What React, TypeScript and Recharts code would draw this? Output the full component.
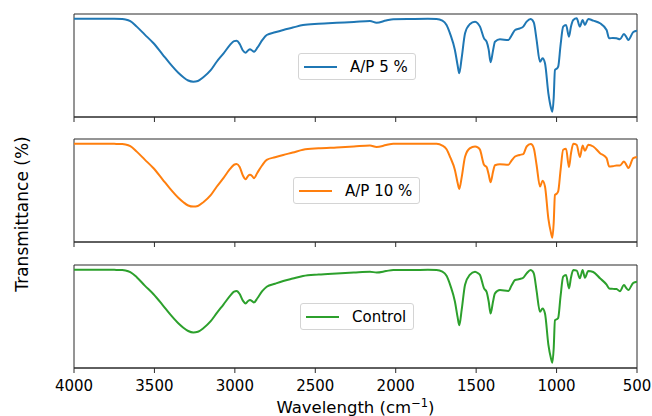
import React from 'react';
import { LineChart, Line, XAxis, YAxis, Legend, ReferenceArea, Label } from 'recharts';

const wavenumbers = [4000, 3850, 3750, 3700, 3680, 3650, 3610, 3560, 3507, 3450, 3403, 3350, 3320, 3290, 3258, 3230, 3196, 3150, 3113, 3070, 3030, 3005, 2989, 2970, 2950, 2933, 2918, 2906, 2893, 2881, 2860, 2830, 2802, 2750, 2699, 2640, 2576, 2480, 2367, 2260, 2160, 2119, 2060, 2015, 1900, 1800, 1746, 1710, 1684, 1660, 1632, 1615, 1605, 1590, 1569, 1540, 1507, 1490, 1476, 1451, 1435, 1422, 1410, 1395, 1383, 1352, 1300, 1280, 1258, 1230, 1207, 1186, 1161, 1150, 1140, 1124, 1103, 1087, 1072, 1051, 1035, 1026, 1018, 1010, 1000, 990, 975, 959, 941, 923, 910, 896, 875, 855, 838, 824, 803, 772, 730, 689, 673, 650, 627, 606, 581, 565, 554, 523, 500];

const ap5 = [100, 100, 99.9, 99.6, 99.2, 97.5, 91.5, 83, 74, 62, 52, 42, 37.5, 34, 32.7, 33.5, 37.5, 45, 54, 63, 72, 76, 76.5, 73, 66, 63.7, 66, 67.3, 66, 64.7, 69, 77, 82.6, 85.5, 88, 90.5, 93.3, 94.7, 95.7, 96.5, 97.5, 95.7, 98, 99.5, 99.7, 99.8, 99.7, 98, 93.3, 83, 66.6, 50, 41.7, 58, 84.4, 94, 96.8, 95, 91.5, 79, 75.4, 67, 53.4, 66, 75.4, 78, 77.2, 82, 87.9, 89.5, 91.5, 96.8, 99.7, 98.5, 95.1, 77.2, 54, 57.7, 52.3, 20.3, 5, 0.6, 15, 45.2, 46.5, 48.7, 72, 91.5, 93.3, 80.8, 92, 98.6, 100.4, 91.5, 98.6, 93.3, 99.7, 97.9, 95.1, 87.9, 79, 79.5, 79, 78, 83.7, 80, 77.2, 85.8, 87.2];

const ap10 = [100, 100, 99.8, 99.6, 99.2, 97.5, 91.5, 83, 74, 62, 52, 42, 37.5, 34, 32.8, 33.5, 37.5, 45, 54, 63.5, 73, 77.5, 78.2, 75, 66, 62, 65.5, 66.7, 65.5, 63.2, 69, 77, 82.7, 85.5, 88, 90.5, 93.5, 95, 96, 97, 98, 96.4, 98.5, 99.9, 99.8, 99.9, 99.8, 98, 94, 85, 72, 58, 51.7, 64, 86, 95, 97, 96, 93.5, 77.4, 75, 67, 58.9, 70, 77, 78.1, 77.4, 82, 86.3, 88, 88.9, 97, 99.6, 98.5, 94, 77, 54.2, 60.3, 54.2, 20, 5, -0.4, 15, 45.3, 46.5, 49, 72, 93.5, 94.5, 75, 90, 99.9, 98.8, 85.7, 98, 92.4, 98.8, 97, 89.9, 84.6, 75.6, 76, 76.7, 76.7, 81, 77, 73.9, 84.6, 85.7];

const control = [100, 100, 99.8, 99.6, 99.2, 97.5, 92, 83, 74, 62.5, 52.5, 42.5, 38, 34.5, 32.9, 33.7, 37.5, 45, 53.5, 63, 72, 76.5, 77.2, 74, 67, 64, 66.5, 67.5, 66.5, 65, 69.5, 77, 81.8, 85, 87.9, 90.5, 93.2, 94.8, 96, 97, 97.8, 97, 98.5, 99.7, 99.7, 99.8, 99.7, 98, 93.5, 83, 66, 49, 40.7, 57, 84, 94.5, 97.9, 96.5, 94.3, 80, 76.4, 66, 53.2, 66, 74.7, 78.2, 77.2, 83, 89, 90, 91.4, 96.1, 99.7, 98.5, 95, 77, 55, 58.6, 53.2, 20, 5.5, 0.7, 15.5, 46, 47, 48.5, 72, 92.5, 94.3, 80, 92, 99.7, 99, 90.8, 99.7, 91.4, 98.6, 97.5, 90.8, 84, 80, 79.5, 79.3, 77, 83.6, 80, 78.2, 86, 87.1];

const xTicks = [4000, 3500, 3000, 2500, 2000, 1500, 1000, 500];

const seriesNames = ['A/P 5 %', 'A/P 10 %', 'Control'];
const seriesColors = ['#1f77b4', '#ff7f0e', '#2ca02c'];
const seriesKeys = ['ap5', 'ap10', 'control'];

const data = wavenumbers.map((w, i) => ({ w, ap5: ap5[i], ap10: ap10[i], control: control[i] }));

const FONT = '"DejaVu Sans", sans-serif';
const SPINE = '#2b2b2b';

const panels = [
  { top: 0, height: 125, mTop: 14, axisH: 8, legendLeft: 298, legendTop: 53 },
  { top: 125, height: 125, mTop: 14, axisH: 8, legendLeft: 293, legendTop: 52 },
  { top: 250, height: 166, mTop: 15, axisH: 48, legendLeft: 300, legendTop: 53 },
];

function makeLegend(name: string, color: string) {
  return () => (
    <div
      style={{
        display: 'flex',
        alignItems: 'center',
        height: 25,
        padding: '0 7px 0 5px',
        border: '1px solid #d4d4d4',
        borderRadius: 3,
        background: 'rgba(255,255,255,0.8)',
        fontFamily: FONT,
        fontSize: 15,
        color: '#000',
        whiteSpace: 'nowrap',
      }}
    >
      <svg width={33} height={4} style={{ marginRight: 13 }}>
        <line x1={0} y1={2} x2={33} y2={2} stroke={color} strokeWidth={2} />
      </svg>
      <span>{name}</span>
    </div>
  );
}

function XTitle(props: any) {
  const vb = props.viewBox || {};
  const cx = (vb.x || 0) + (vb.width || 0) / 2;
  const y = (vb.y || 0) + (vb.height || 0) - 3;
  return (
    <text x={cx} y={y} textAnchor="middle" fill="#000" fontSize={16.5} fontFamily={FONT}>
      Wavelength (cm
      <tspan dy={-6} fontSize={11.5}>−1</tspan>
      <tspan dy={6}>)</tspan>
    </text>
  );
}

export default function App() {
  return (
    <div style={{ position: 'absolute', left: 0, top: 0, width: 652, height: 416, background: '#fff' }}>
      {panels.map((p, idx) => {
        const isLast = idx === panels.length - 1;
        return (
          <div key={idx} style={{ position: 'absolute', left: 0, top: p.top }}>
            <LineChart
              width={652}
              height={p.height}
              data={data}
              margin={{ top: p.mTop, right: 15, bottom: 0, left: 74 }}
            >
              <XAxis
                dataKey="w"
                type="number"
                domain={[500, 4000]}
                reversed
                ticks={xTicks}
                allowDataOverflow
                height={p.axisH}
                tickSize={5}
                tickMargin={7}
                stroke={SPINE}
                axisLine={{ stroke: SPINE, strokeWidth: 1 }}
                tickLine={{ stroke: SPINE }}
                tick={{ fill: '#000', fontSize: 15, fontFamily: FONT }}
                tickFormatter={isLast ? (v: number) => String(v) : () => ''}
              >
                {isLast ? <Label content={XTitle} position="insideBottom" /> : null}
              </XAxis>
              <YAxis domain={[-5, 105]} hide allowDataOverflow />
              <ReferenceArea
                x1={500}
                x2={4000}
                y1={-5}
                y2={105}
                fill="none"
                fillOpacity={0}
                stroke={SPINE}
                strokeWidth={1}
                ifOverflow="visible"
              />
              <Legend
                layout="horizontal"
                verticalAlign="middle"
                align="center"
                content={makeLegend(seriesNames[idx], seriesColors[idx])}
                wrapperStyle={{ left: p.legendLeft, top: p.legendTop, width: 'auto', height: 'auto' }}
              />
              <Line
                type="monotone"
                dataKey={seriesKeys[idx]}
                name={seriesNames[idx]}
                stroke={seriesColors[idx]}
                strokeWidth={2}
                dot={false}
                activeDot={false}
                isAnimationActive={false}
              />
            </LineChart>
          </div>
        );
      })}
      <div
        style={{
          position: 'absolute',
          left: 22,
          top: 214,
          transform: 'translate(-50%, -50%) rotate(-90deg)',
          fontFamily: FONT,
          fontSize: 17,
          color: '#000',
          whiteSpace: 'nowrap',
        }}
      >
        Transmittance (%)
      </div>
    </div>
  );
}
